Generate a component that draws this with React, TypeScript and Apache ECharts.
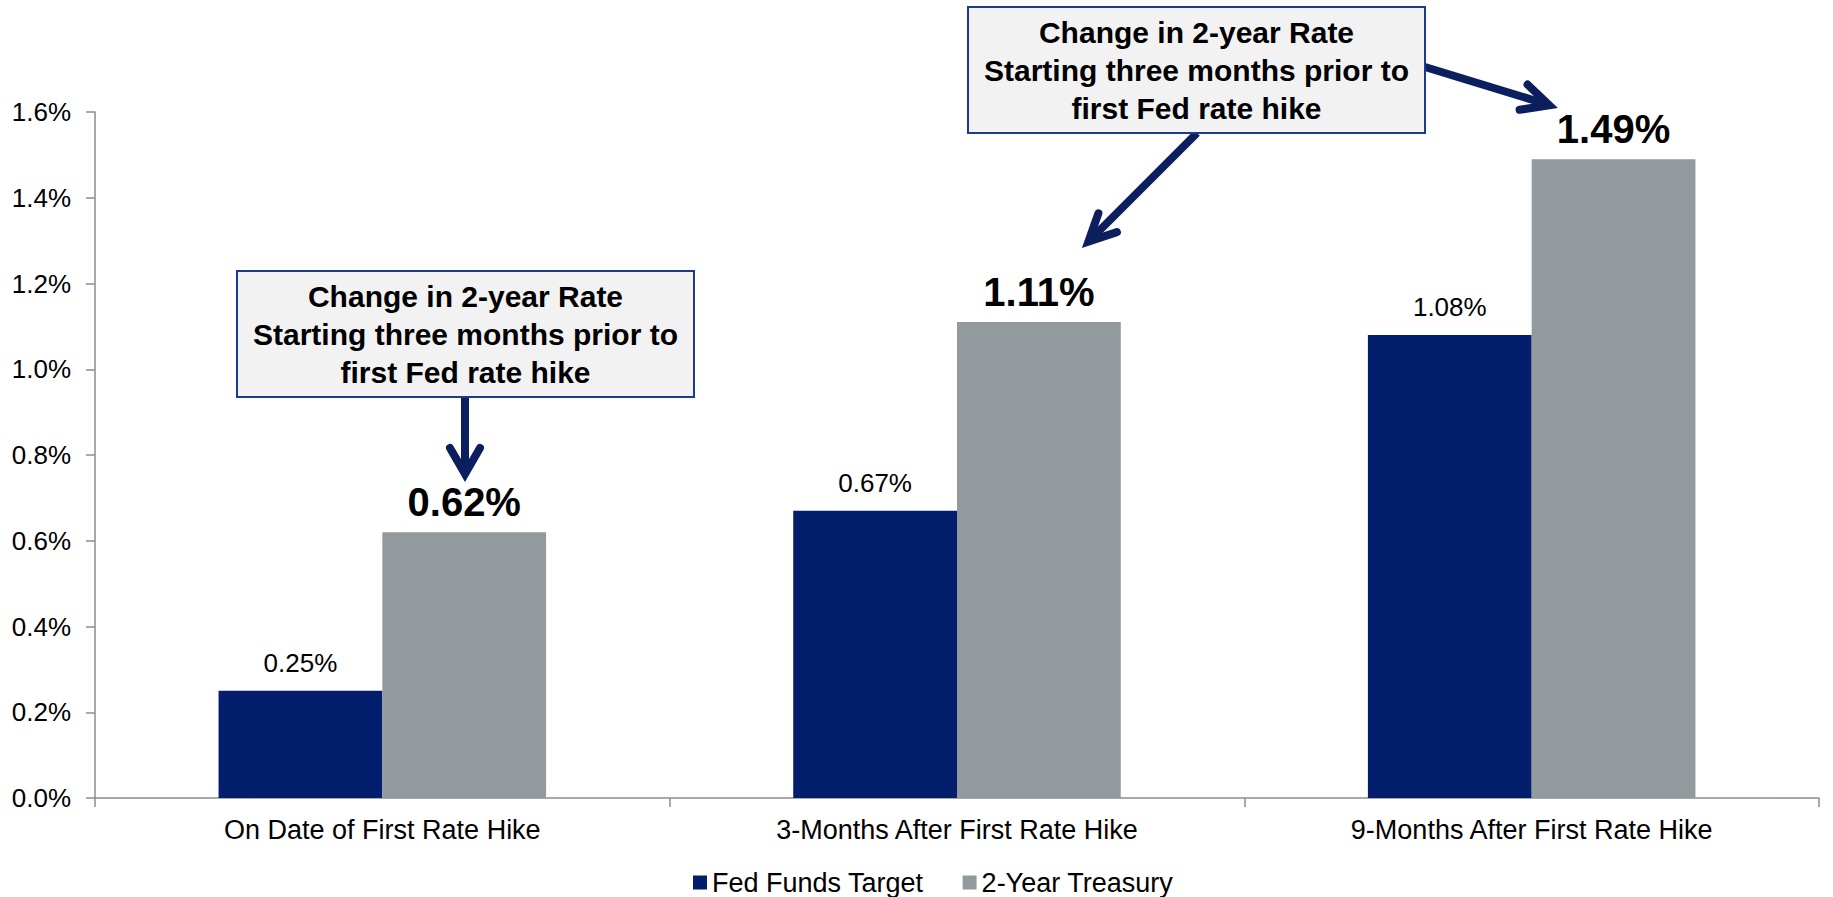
import React, { useEffect, useRef } from "react";
import * as echarts from "echarts";

const categories = [
  "On Date of First Rate Hike",
  "3-Months After First Rate Hike",
  "9-Months After First Rate Hike",
];
const fedFundsTarget = [0.25, 0.67, 1.08];
const twoYearTreasury = [0.62, 1.11, 1.49];
const seriesNames = ["Fed Funds Target", "2-Year Treasury"];
const yMin = 0;
const yMax = 1.6;
const yInterval = 0.2;
const boxText = "Change in 2-year Rate\nStarting three months prior to\nfirst Fed rate hike";

const FONT = "'Liberation Sans', Arial, Helvetica, sans-serif";
const NAVY = "#0B1F5F";
const BLUE = "#021E6C";
const GRAY = "#939A9D";

function box(x: number, y: number, w: number, h: number) {
  return [
    {
      type: "rect",
      z: 20,
      shape: { x, y, width: w, height: h },
      style: { fill: "#F2F2F2", stroke: "#1C3B8E", lineWidth: 2 },
    },
    {
      type: "text",
      z: 21,
      x: x + w / 2,
      y: y + h / 2,
      style: {
        text: boxText,
        font: `bold 30px ${FONT}`,
        fill: "#000",
        align: "center",
        verticalAlign: "middle",
        lineHeight: 38,
      },
    },
  ];
}

function arrow(shaft: number[][], head: number[][]) {
  return [
    {
      type: "polyline",
      z: 15,
      shape: { points: shaft },
      style: { stroke: NAVY, lineWidth: 8, fill: null, lineCap: "butt" },
    },
    {
      type: "polyline",
      z: 15,
      shape: { points: head },
      style: { stroke: NAVY, lineWidth: 8, fill: null, lineCap: "round", lineJoin: "miter" },
    },
  ];
}

export default function App() {
  const ref = useRef<HTMLDivElement>(null);
  useEffect(() => {
    if (!ref.current) return;
    const chart = echarts.init(ref.current, null, { renderer: "svg" });
    chart.setOption({
      animation: false,
      textStyle: { fontFamily: FONT },
      grid: { left: 95, right: 14, top: 112, bottom: 99, containLabel: false },
      legend: {
        data: seriesNames,
        left: 688,
        top: 864,
        icon: "rect",
        itemWidth: 14,
        itemHeight: 14,
        itemGap: 39,
        textStyle: { fontSize: 27, color: "#000", fontFamily: FONT },
      },
      xAxis: {
        type: "category",
        data: categories,
        axisLine: { lineStyle: { color: "#8C8C8C", width: 1.5 } },
        axisTick: { show: true, length: 9, lineStyle: { color: "#8C8C8C", width: 1.5 } },
        axisLabel: { fontSize: 27, color: "#000", margin: 18, fontFamily: FONT },
      },
      yAxis: {
        type: "value",
        min: yMin,
        max: yMax,
        interval: yInterval,
        splitLine: { show: false },
        axisLine: { show: true, lineStyle: { color: "#8C8C8C", width: 1.5 } },
        axisTick: { show: true, length: 9, lineStyle: { color: "#8C8C8C", width: 1.5 } },
        axisLabel: {
          fontSize: 26,
          color: "#000",
          margin: 24,
          fontFamily: FONT,
          formatter: (v: number) => v.toFixed(1) + "%",
        },
      },
      series: [
        {
          name: seriesNames[0],
          type: "bar",
          data: fedFundsTarget,
          itemStyle: { color: BLUE },
          barGap: "0%",
          barCategoryGap: "43%",
          label: {
            show: true,
            position: "top",
            distance: 15,
            fontSize: 26,
            color: "#000",
            fontFamily: FONT,
            formatter: (p: any) => p.value.toFixed(2) + "%",
          },
        },
        {
          name: seriesNames[1],
          type: "bar",
          data: twoYearTreasury,
          itemStyle: { color: GRAY },
          barGap: "0%",
          barCategoryGap: "43%",
          label: {
            show: true,
            position: "top",
            distance: 10,
            fontSize: 40,
            fontWeight: "bold",
            color: "#000",
            fontFamily: FONT,
            formatter: (p: any) => p.value.toFixed(2) + "%",
          },
        },
      ],
      graphic: [
        ...arrow([[465, 397], [465, 472]], [[450, 448], [465, 474], [480, 448]]),
        ...arrow([[1197, 133], [1090, 240]], [[1098.4, 213.3], [1088.4, 241.6], [1116.9, 232.1]]),
        ...arrow([[1425, 67], [1546, 104]], [[1527.6, 84.6], [1549.3, 105.3], [1519.6, 109.8]]),
        ...box(237, 271, 457, 126),
        ...box(968, 7, 457, 126),
      ],
    });
    return () => chart.dispose();
  }, []);
  return (
    <div
      ref={ref}
      style={{ position: "fixed", left: 0, top: 0, width: 1833, height: 897, background: "#fff" }}
    />
  );
}
